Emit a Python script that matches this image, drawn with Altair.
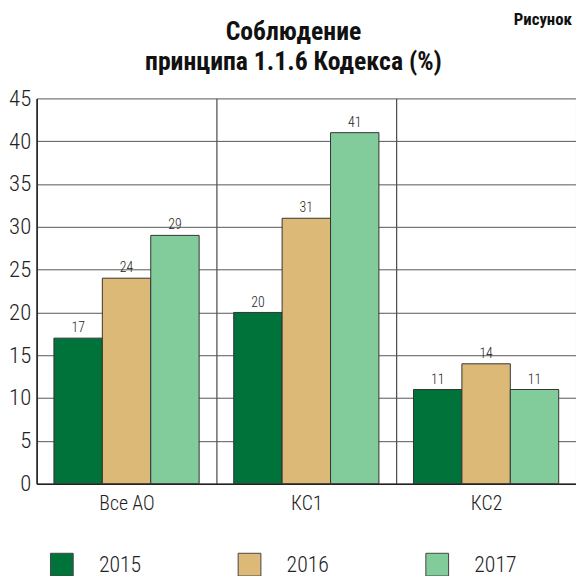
import altair as alt
import pandas as pd

groups = ["Все АО", "КС1", "КС2"]
years = ["2015", "2016", "2017"]
values_2015 = [17, 20, 11]
values_2016 = [24, 31, 14]
values_2017 = [29, 41, 11]
colors = ["#00733a", "#dcb977", "#82cc9c"]
y_ticks = [0, 5, 10, 15, 20, 25, 30, 35, 40, 45]
title_lines = ["Соблюдение", "принципа 1.1.6 Кодекса (%)"]
corner_text = "Рисунок"

rows = []
for year, vals in zip(years, [values_2015, values_2016, values_2017]):
    for g, v in zip(groups, vals):
        rows.append({"group": g, "year": year, "value": v})
df = pd.DataFrame(rows)

FONT = "Roboto Condensed"

x_enc = alt.X(
    "group:N", sort=groups,
    scale=alt.Scale(paddingInner=0, paddingOuter=0),
    axis=alt.Axis(title=None, labelAngle=0, tickBand="extent", ticks=False,
                  grid=True, gridColor="#222", gridWidth=1, gridOpacity=1,
                  labelFontSize=20, labelFontWeight=300, labelPadding=10,
                  labelColor="#222", labelFont=FONT,
                  domainColor="#222", domainWidth=1.5),
)
xo_enc = alt.XOffset("year:N", sort=years,
                     scale=alt.Scale(paddingOuter=0.357, paddingInner=0))
y_enc = alt.Y(
    "value:Q",
    scale=alt.Scale(domain=[0, 45], nice=False),
    axis=alt.Axis(title=None, values=y_ticks, ticks=False, grid=True,
                  gridColor="#555", gridWidth=1, gridOpacity=1,
                  labelFontSize=23, labelFontWeight=300, labelPadding=6,
                  labelColor="#222", labelFont=FONT,
                  domainColor="#222", domainWidth=1.5),
)

bars = alt.Chart(df).mark_bar(stroke="#333", strokeWidth=1).encode(
    x=x_enc, xOffset=xo_enc, y=y_enc,
    fill=alt.Fill("year:N", sort=years,
                  scale=alt.Scale(domain=years, range=colors),
                  legend=alt.Legend(
                      title=None, orient="none", direction="horizontal",
                      legendX=13, legendY=459,
                      symbolType="square", symbolSize=530,
                      symbolStrokeColor="#444", symbolStrokeWidth=1,
                      symbolOpacity=1,
                      labelFontSize=22, labelFontWeight=300, labelFont=FONT,
                      labelColor="#222", labelOffset=25, columnPadding=95)),
)

labels = alt.Chart(df).mark_text(baseline="bottom", dy=-3, fontSize=14,
                                 fontWeight=300, font=FONT, color="#222").encode(
    x=alt.X("group:N", sort=groups), xOffset=alt.XOffset("year:N", sort=years),
    y="value:Q", text="value:Q",
)

title1 = alt.Chart(alt.Data(values=[{"t": title_lines[0]}])).mark_text(
    align="center", baseline="alphabetic", fontSize=26, fontWeight="bold",
    font=FONT, color="#111").encode(
    x=alt.value(260), y=alt.value(-59), text="t:N")
title2 = alt.Chart(alt.Data(values=[{"t": title_lines[1]}])).mark_text(
    align="center", baseline="alphabetic", fontSize=26, fontWeight="bold",
    font=FONT, color="#111").encode(
    x=alt.value(260), y=alt.value(-29), text="t:N")

corner = alt.Chart(alt.Data(values=[{"t": corner_text}])).mark_text(
    align="right", baseline="alphabetic", fontSize=17, fontWeight="bold",
    font=FONT, color="#111").encode(
    x=alt.value(542), y=alt.value(-74), text="t:N")

chart = alt.layer(bars, labels, title1, title2, corner).properties(
    width=546, height=390,
    autosize=alt.AutoSizeParams(type="none"),
    padding={"left": 29, "top": 88, "right": 0, "bottom": 95},
).configure_view(stroke="transparent")

chart.save("out.html", embed_options={"renderer": "svg", "actions": False})
